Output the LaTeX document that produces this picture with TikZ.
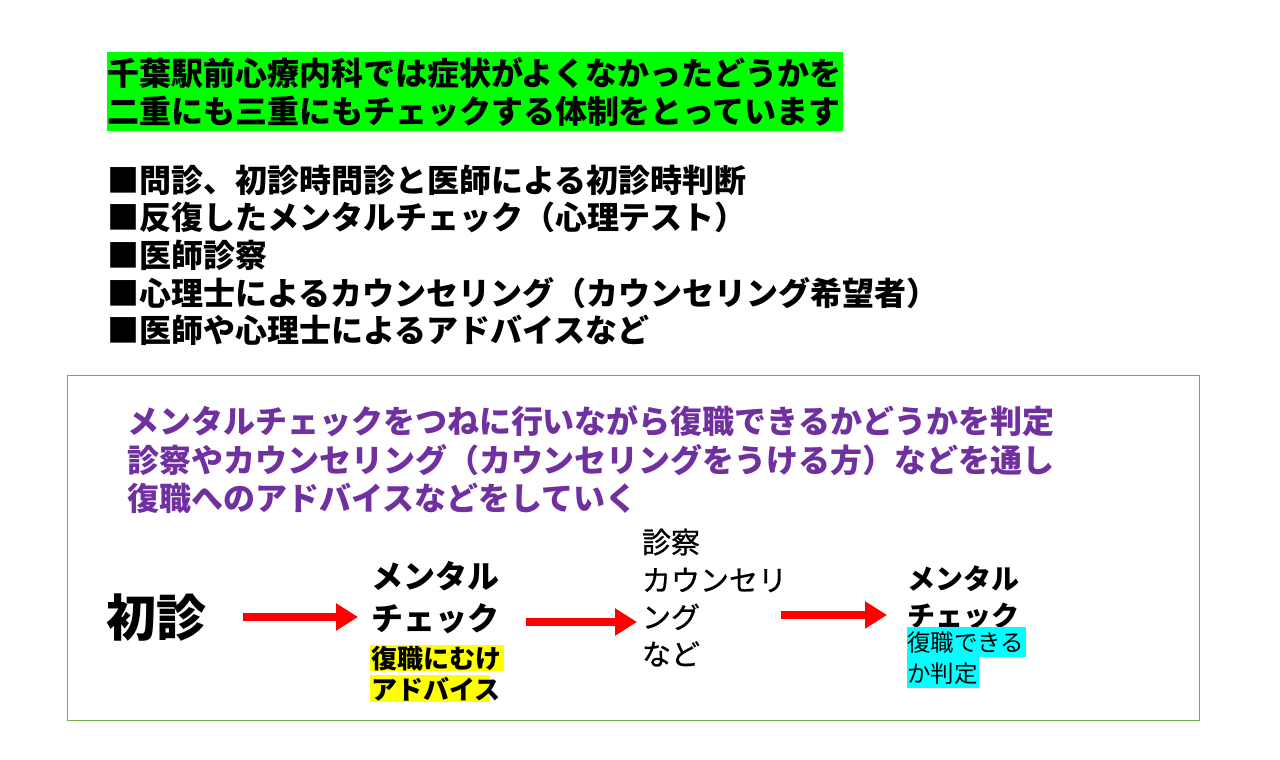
\documentclass[tikz,border=0pt]{standalone}
\usepackage{fontspec}
\setmainfont{Noto Sans CJK JP}
\newfontfamily\jpmed{Noto Sans CJK JP}[FakeBold=0.8]
\usetikzlibrary{arrows.meta}
\definecolor{hlgreen}{RGB}{0,255,0}
\definecolor{boxgreen}{RGB}{112,173,71}
\definecolor{txtpurple}{RGB}{112,48,160}
\definecolor{hlcyan}{RGB}{0,255,255}
\definecolor{hlyellow}{RGB}{255,255,0}
\definecolor{arrred}{RGB}{255,0,0}
\tikzset{
  txt/.style={anchor=base west, inner sep=0pt, outer sep=0pt},
  head/.style={txt, font=\fontsize{32}{38}\selectfont\bfseries},
  bul/.style={txt, font=\fontsize{32}{38}\selectfont\bfseries},
  purp/.style={txt, text=txtpurple, font=\fontsize{32}{38}\selectfont\bfseries},
  big/.style={txt, font=\fontsize{50}{56}\selectfont\bfseries},
  mid/.style={txt, font=\fontsize{32}{36}\selectfont\bfseries},
  midr/.style={txt, font=\fontsize{29}{34}\selectfont\jpmed},
  right/.style={txt, font=\fontsize{28}{34}\selectfont\bfseries},
  small/.style={txt, font=\fontsize{26}{30}\selectfont\bfseries},
  smallr/.style={txt, font=\fontsize{23.5}{28}\selectfont},
  flow/.style={arrred, line width=8pt, -{Triangle[length=22pt,width=26pt]}}
}
\begin{document}
\begin{tikzpicture}[x=1pt,y=-1pt]
\useasboundingbox (0,0) rectangle (1280,760);
% top highlighted heading
\fill[hlgreen] (107,52) rectangle (843,131);
\node[head] (h1) at (107,85) {千葉駅前心療内科では症状がよくなかったどうかを};
\node[head] (h2) at (107,123) {二重にも三重にもチェックする体制をとっています};
% bullets
\node[bul] (b1) at (107,192) {■問診、初診時問診と医師による初診時判断};
\node[bul] (b2) at (107,229) {■反復したメンタルチェック（心理テスト）};
\node[bul] (b3) at (107,267) {■医師診察};
\node[bul] (b4) at (107,305) {■心理士によるカウンセリング（カウンセリング希望者）};
\node[bul] (b5) at (107,342) {■医師や心理士によるアドバイスなど};
% frame
\draw[boxgreen, line width=1pt] (67,375) rectangle (1199,720);
\node[purp] (p1) at (127,433) {メンタルチェックをつねに行いながら復職できるかどうかを判定};
\node[purp] (p2) at (127,472) {診察やカウンセリング（カウンセリングをうける方）などを通し};
\node[purp] (p3) at (127,510) {復職へのアドバイスなどをしていく};
% flow
\node[big] (s1) at (106,636) {初診};
\node[mid] (m1a) at (371,588) {メンタル};
\node[mid] (m1b) at (371,630) {チェック};
\fill[hlyellow] (370,645) rectangle (504,671);
\fill[hlyellow] (370,675) rectangle (490,702);
\node[small] (y1) at (371,668) {復職にむけ};
\node[small] (y2) at (371,699) {アドバイス};
\node[midr] (c1) at (642,553) {診察};
\node[midr] (c2) at (642,591) {カウンセリ};
\node[midr] (c3) at (642,628) {ング};
\node[midr] (c4) at (642,665) {など};
\node[right] (m2a) at (907,589) {メンタル};
\node[right] (m2b) at (907,626) {チェック};
\fill[hlcyan] (907,627) rectangle (1026,657);
\fill[hlcyan] (907,657) rectangle (979,688);
\node[smallr] (q1) at (907,651) {復職できる};
\node[smallr] (q2) at (907,682) {か判定};
% arrows
\coordinate (a1s) at (243,617);
\coordinate (a1e) at (358,617);
\coordinate (a2s) at (526,622);
\coordinate (a2e) at (637,622);
\coordinate (a3s) at (781,615);
\coordinate (a3e) at (887,615);
\draw[flow] (a1s) -- (a1e);
\draw[flow] (a2s) -- (a2e);
\draw[flow] (a3s) -- (a3e);
\end{tikzpicture}
\end{document}
